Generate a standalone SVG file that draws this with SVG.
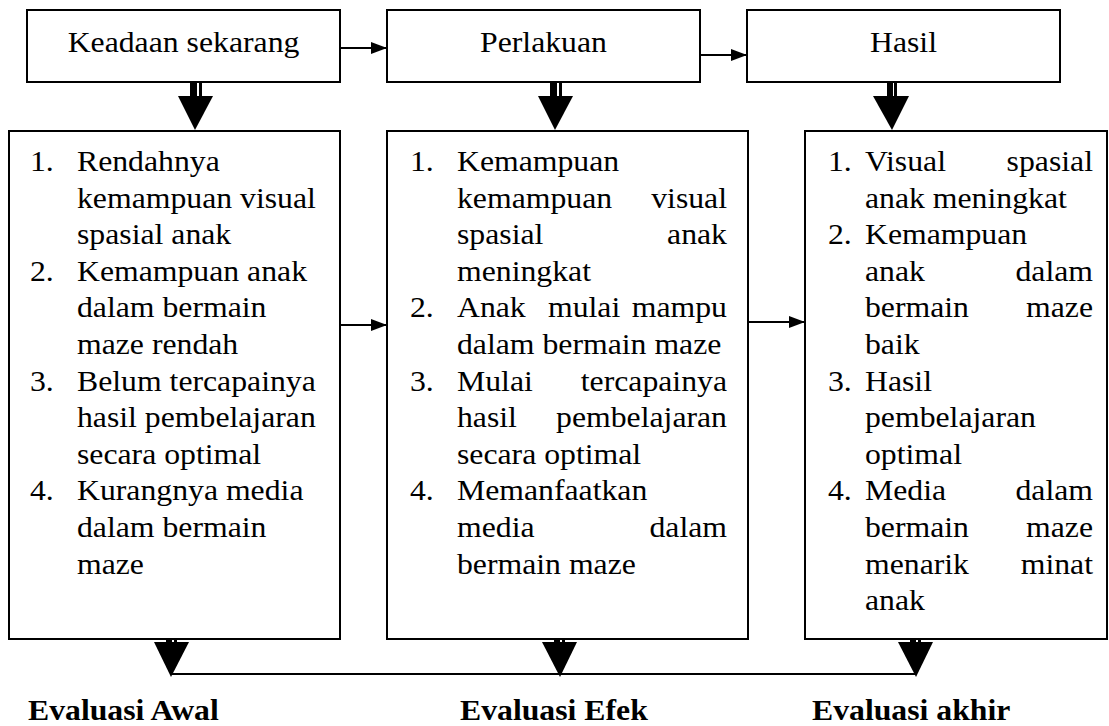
<svg xmlns="http://www.w3.org/2000/svg" width="1109" height="726" viewBox="0 0 1109 726">
<defs>
<style>
.box{fill:#fff;stroke:#000;stroke-width:2}
.t{font-family:"Liberation Serif","Times New Roman",serif;font-size:29px;fill:#000}
.m{text-anchor:middle}
.e{text-anchor:end}
.b{font-weight:bold}
.ln{stroke:#000;stroke-width:2;fill:none}
.hd{fill:#000}
</style>
<marker id="ah" markerUnits="userSpaceOnUse" markerWidth="16" markerHeight="12" refX="16" refY="6" orient="auto">
<path d="M0,0 L16,6 L0,12 Z" fill="#000"/>
</marker>
</defs>
<rect width="1109" height="726" fill="#fff"/>

<g id="connectors">
<line class="ln" x1="340" y1="48" x2="387" y2="48" marker-end="url(#ah)"/>
<line class="ln" x1="700" y1="55" x2="747" y2="55" marker-end="url(#ah)"/>
<line class="ln" x1="340" y1="325" x2="387" y2="325" marker-end="url(#ah)"/>
<line class="ln" x1="748" y1="322" x2="805" y2="322" marker-end="url(#ah)"/>
<rect class="hd" x="190" y="82" width="7" height="15"/>
<rect class="hd" x="199" y="82" width="3" height="15"/>
<polygon class="hd" points="178,96 213,96 195,130"/>
<rect class="hd" x="550" y="82" width="7" height="15"/>
<rect class="hd" x="559" y="82" width="3" height="15"/>
<polygon class="hd" points="538,96 573,96 555,130"/>
<rect class="hd" x="887" y="82" width="6" height="15"/>
<rect class="hd" x="894" y="82" width="3" height="15"/>
<polygon class="hd" points="873,96 909,96 892,130"/>
<rect class="hd" x="166" y="639" width="6" height="4"/>
<rect class="hd" x="174" y="639" width="3" height="4"/>
<polygon class="hd" points="154,642 189,642 171,677"/>
<rect class="hd" x="554" y="639" width="6" height="4"/>
<rect class="hd" x="562" y="639" width="3" height="4"/>
<polygon class="hd" points="542,642 577,642 560,677"/>
<rect class="hd" x="910" y="639" width="6" height="4"/>
<rect class="hd" x="918" y="639" width="3" height="4"/>
<polygon class="hd" points="898,642 933,642 916,677"/>
<line class="ln" x1="171" y1="674" x2="916" y2="674"/>
</g>

<g id="node-keadaan">
<rect class="box" x="27" y="10" width="313" height="72"/>
<text class="t m" transform="translate(183.5,52) scale(1.095,1)">Keadaan sekarang</text>
</g>
<g id="node-perlakuan">
<rect class="box" x="387" y="10" width="313" height="72"/>
<text class="t m" transform="translate(543.5,52) scale(1.095,1)">Perlakuan</text>
</g>
<g id="node-hasil">
<rect class="box" x="747" y="10" width="313" height="72"/>
<text class="t m" transform="translate(903.5,52) scale(1.095,1)">Hasil</text>
</g>

<g id="node-awal">
<rect class="box" x="9" y="131" width="331" height="508"/>
<text class="t" transform="translate(30,171) scale(1.095,1)">1.</text>
<text class="t" transform="translate(77,171) scale(1.095,1)">Rendahnya</text>
<text class="t" transform="translate(77,207.6) scale(1.095,1)">kemampuan visual</text>
<text class="t" transform="translate(77,244.2) scale(1.095,1)">spasial anak</text>
<text class="t" transform="translate(30,280.8) scale(1.095,1)">2.</text>
<text class="t" transform="translate(77,280.8) scale(1.095,1)">Kemampuan anak</text>
<text class="t" transform="translate(77,317.4) scale(1.095,1)">dalam bermain</text>
<text class="t" transform="translate(77,354) scale(1.095,1)">maze rendah</text>
<text class="t" transform="translate(30,390.6) scale(1.095,1)">3.</text>
<text class="t" transform="translate(77,390.6) scale(1.095,1)">Belum tercapainya</text>
<text class="t" transform="translate(77,427.2) scale(1.095,1)">hasil pembelajaran</text>
<text class="t" transform="translate(77,463.8) scale(1.095,1)">secara optimal</text>
<text class="t" transform="translate(30,500.4) scale(1.095,1)">4.</text>
<text class="t" transform="translate(77,500.4) scale(1.095,1)">Kurangnya media</text>
<text class="t" transform="translate(77,537) scale(1.095,1)">dalam bermain</text>
<text class="t" transform="translate(77,573.6) scale(1.095,1)">maze</text>
</g>

<g id="node-efek">
<rect class="box" x="387" y="131" width="361" height="508"/>
<text class="t" transform="translate(410,171) scale(1.095,1)">1.</text>
<text class="t" transform="translate(457,171) scale(1.095,1)">Kemampuan</text>
<text class="t" transform="translate(457,207.6) scale(1.095,1)">kemampuan</text>
<text class="t e" transform="translate(727,207.6) scale(1.095,1)">visual</text>
<text class="t" transform="translate(457,244.2) scale(1.095,1)">spasial</text>
<text class="t e" transform="translate(727,244.2) scale(1.095,1)">anak</text>
<text class="t" transform="translate(457,280.8) scale(1.095,1)">meningkat</text>
<text class="t" transform="translate(410,317.4) scale(1.095,1)">2.</text>
<text class="t" transform="translate(457,317.4) scale(1.095,1)">Anak</text>
<text class="t" transform="translate(548,317.4) scale(1.095,1)">mulai</text>
<text class="t e" transform="translate(727,317.4) scale(1.095,1)">mampu</text>
<text class="t" transform="translate(457,354) scale(1.095,1)">dalam bermain maze</text>
<text class="t" transform="translate(410,390.6) scale(1.095,1)">3.</text>
<text class="t" transform="translate(457,390.6) scale(1.095,1)">Mulai</text>
<text class="t e" transform="translate(727,390.6) scale(1.095,1)">tercapainya</text>
<text class="t" transform="translate(457,427.2) scale(1.095,1)">hasil</text>
<text class="t e" transform="translate(727,427.2) scale(1.095,1)">pembelajaran</text>
<text class="t" transform="translate(457,463.8) scale(1.095,1)">secara optimal</text>
<text class="t" transform="translate(410,500.4) scale(1.095,1)">4.</text>
<text class="t" transform="translate(457,500.4) scale(1.095,1)">Memanfaatkan</text>
<text class="t" transform="translate(457,537) scale(1.095,1)">media</text>
<text class="t e" transform="translate(727,537) scale(1.095,1)">dalam</text>
<text class="t" transform="translate(457,573.6) scale(1.095,1)">bermain maze</text>
</g>

<g id="node-akhir">
<rect class="box" x="805" y="131" width="302" height="508"/>
<text class="t" transform="translate(828,171) scale(1.095,1)">1.</text>
<text class="t" transform="translate(865,171) scale(1.095,1)">Visual</text>
<text class="t e" transform="translate(1093,171) scale(1.095,1)">spasial</text>
<text class="t" transform="translate(865,207.6) scale(1.095,1)">anak meningkat</text>
<text class="t" transform="translate(828,244.2) scale(1.095,1)">2.</text>
<text class="t" transform="translate(865,244.2) scale(1.095,1)">Kemampuan</text>
<text class="t" transform="translate(865,280.8) scale(1.095,1)">anak</text>
<text class="t e" transform="translate(1093,280.8) scale(1.095,1)">dalam</text>
<text class="t" transform="translate(865,317.4) scale(1.095,1)">bermain</text>
<text class="t e" transform="translate(1093,317.4) scale(1.095,1)">maze</text>
<text class="t" transform="translate(865,354) scale(1.095,1)">baik</text>
<text class="t" transform="translate(828,390.6) scale(1.095,1)">3.</text>
<text class="t" transform="translate(865,390.6) scale(1.095,1)">Hasil</text>
<text class="t" transform="translate(865,427.2) scale(1.095,1)">pembelajaran</text>
<text class="t" transform="translate(865,463.8) scale(1.095,1)">optimal</text>
<text class="t" transform="translate(828,500.4) scale(1.095,1)">4.</text>
<text class="t" transform="translate(865,500.4) scale(1.095,1)">Media</text>
<text class="t e" transform="translate(1093,500.4) scale(1.095,1)">dalam</text>
<text class="t" transform="translate(865,537) scale(1.095,1)">bermain</text>
<text class="t e" transform="translate(1093,537) scale(1.095,1)">maze</text>
<text class="t" transform="translate(865,573.6) scale(1.095,1)">menarik</text>
<text class="t e" transform="translate(1093,573.6) scale(1.095,1)">minat</text>
<text class="t" transform="translate(865,610.2) scale(1.095,1)">anak</text>
</g>

<g id="label-awal"><text class="t b" transform="translate(28,720) scale(1.095,1)">Evaluasi Awal</text></g>
<g id="label-efek"><text class="t b" transform="translate(460,720) scale(1.095,1)">Evaluasi Efek</text></g>
<g id="label-akhir"><text class="t b" transform="translate(812,720) scale(1.095,1)">Evaluasi akhir</text></g>
</svg>
